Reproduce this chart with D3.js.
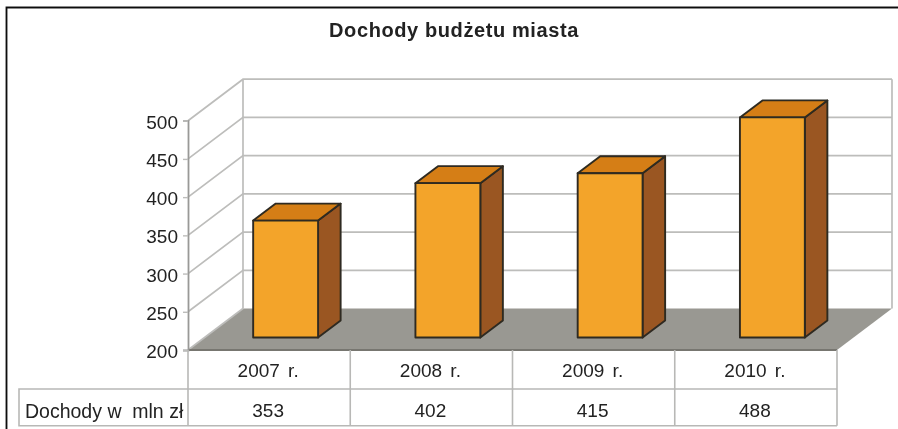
<!DOCTYPE html>
<html>
<head>
<meta charset="utf-8">
<script src="https://cdn.jsdelivr.net/npm/d3@7"></script>
<style>
  html, body { margin: 0; padding: 0; background: #fff; }
  svg { display: block; }
  text { font-family: "Liberation Sans", Arial, sans-serif; fill: #222; }
</style>
</head>
<body>
<div id="chart"></div>
<script>
const title = "Dochody budżetu miasta";
const categories = ["2007 r.", "2008 r.", "2009 r.", "2010 r."];
const incomes = [353, 402, 415, 488];
const yTicks = [200, 250, 300, 350, 400, 450, 500];
const rowLabel = "Dochody w  mln zł";

const width = 898, height = 429;

const svg = d3.select("#chart").append("svg")
  .attr("width", width)
  .attr("height", height);

// the scan is soft, so everything goes through a slight blur
svg.append("filter").attr("id", "soft")
  .append("feGaussianBlur").attr("stdDeviation", 0.6);

const root = svg.append("g").attr("filter", "url(#soft)");

const x = d3.scaleBand()
  .domain(categories)
  .range([188, 837])
  .paddingInner(0.6)
  .paddingOuter(0.3);

const y = d3.scaleLinear()
  .domain([200, 500])
  .range([350, 120.7]);

// depth 0 = front of the floor, 1 = back wall
const depthX = d3.scaleLinear().domain([0, 1]).range([0, 55]);
const depthY = d3.scaleLinear().domain([0, 1]).range([0, -41.5]);
const barFront = 0.3, barBack = 0.71;

const px = (xv, d) => xv + depthX(d);
const py = (v, d) => y(v) + depthY(d);
const toPath = pts => "M" + pts.map(p => p.join(",")).join("L") + "Z";

const left = x.range()[0], right = x.range()[1];

// outer frame, only top and left are visible
root.append("path")
  .attr("d", `M6.5,${height}V7.5H${width + 2}`)
  .attr("fill", "none")
  .attr("stroke", "#111")
  .attr("stroke-width", 1.8);

// Title
root.append("text")
  .attr("x", 454)
  .attr("y", 36.5)
  .attr("text-anchor", "middle")
  .attr("font-size", 20)
  .attr("font-weight", "bold")
  .attr("letter-spacing", 0.6)
  .text(title);

// Floor
root.append("path")
  .attr("d", toPath([
    [px(left, 0), py(200, 0)],
    [px(left, 1), py(200, 1)],
    [px(right, 1), py(200, 1)],
    [px(right, 0), py(200, 0)]
  ]))
  .attr("fill", "#999892");

// Grid lines on side wall and back wall
const grid = root.append("g")
  .attr("fill", "none")
  .attr("stroke", "#bdbdbb")
  .attr("stroke-width", 1.7);

grid.selectAll("path.wall")
  .data(yTicks)
  .enter()
  .append("path")
  .attr("class", "wall")
  .attr("d", d => `M${px(left, 0)},${py(d, 0)}L${px(left, 1)},${py(d, 1)}` +
    (d > 200 ? `L${px(right, 1)},${py(d, 1)}` : ""));

grid.append("line")
  .attr("x1", px(left, 1)).attr("x2", px(left, 1))
  .attr("y1", py(200, 1)).attr("y2", py(500, 1));

grid.append("line")
  .attr("x1", px(right, 1)).attr("x2", px(right, 1))
  .attr("y1", py(200, 1)).attr("y2", py(500, 1));

// dark front edge of the floor
root.append("line")
  .attr("x1", left).attr("x2", right)
  .attr("y1", y(200)).attr("y2", y(200))
  .attr("stroke", "#77766f")
  .attr("stroke-width", 2);

// Y axis
const yAxis = root.append("g")
  .attr("transform", `translate(${left},0)`)
  .call(d3.axisLeft(y).tickValues(yTicks).tickSize(5).tickPadding(5));
yAxis.select(".domain").attr("stroke", "#999997").attr("stroke-width", 1.8);
yAxis.selectAll(".tick line").attr("stroke", "#bdbdbb").attr("stroke-width", 1.4);
yAxis.selectAll("text")
  .attr("font-size", 19)
  .attr("dy", "0.4em")
  .attr("font-family", '"Liberation Sans", Arial, sans-serif')
  .attr("fill", "#222");

// Bars
const bars = root.selectAll("g.bar")
  .data(categories.map((c, i) => ({ category: c, value: incomes[i] })))
  .enter()
  .append("g")
  .attr("class", "bar")
  .attr("stroke", "#2e2a20")
  .attr("stroke-width", 1.9)
  .attr("stroke-linejoin", "round");

bars.append("path")
  .attr("fill", "#9a5620")
  .attr("d", d => {
    const r = x(d.category) + x.bandwidth();
    return toPath([
      [px(r, barFront), py(200, barFront)],
      [px(r, barBack), py(200, barBack)],
      [px(r, barBack), py(d.value, barBack)],
      [px(r, barFront), py(d.value, barFront)]
    ]);
  });

bars.append("path")
  .attr("fill", "#d57e13")
  .attr("d", d => {
    const l = x(d.category), r = l + x.bandwidth();
    return toPath([
      [px(l, barFront), py(d.value, barFront)],
      [px(l, barBack), py(d.value, barBack)],
      [px(r, barBack), py(d.value, barBack)],
      [px(r, barFront), py(d.value, barFront)]
    ]);
  });

bars.append("rect")
  .attr("fill", "#f3a429")
  .attr("x", d => px(x(d.category), barFront))
  .attr("y", d => py(d.value, barFront))
  .attr("width", x.bandwidth())
  .attr("height", d => y(200) - y(d.value));

// Data table under the chart
const rowTop = 350, rowMid = 389, rowBottom = 425.7, tableLeft = 19;
const edges = categories.map((c, i) => left + x.step() * i).concat(right);

const table = root.append("g")
  .attr("stroke", "#b8b8b6")
  .attr("stroke-width", 1.6);

table.selectAll("line.col")
  .data(edges)
  .enter()
  .append("line")
  .attr("class", "col")
  .attr("x1", d => d).attr("x2", d => d)
  .attr("y1", rowTop).attr("y2", rowBottom);

table.append("path")
  .attr("fill", "none")
  .attr("d", `M${left},${rowMid}H${tableLeft}V${rowBottom}H${right}M${left},${rowMid}H${right}`);

root.selectAll("text.cat")
  .data(categories)
  .enter()
  .append("text")
  .attr("class", "cat")
  .attr("x", (d, i) => edges[i] + x.step() / 2 - 1)
  .attr("y", 376.5)
  .attr("text-anchor", "middle")
  .attr("font-size", 19)
  .attr("word-spacing", 3)
  .text(d => d);

root.selectAll("text.val")
  .data(incomes)
  .enter()
  .append("text")
  .attr("class", "val")
  .attr("x", (d, i) => edges[i] + x.step() / 2 - 1)
  .attr("y", 416.5)
  .attr("text-anchor", "middle")
  .attr("font-size", 19)
  .text(d => d);

root.append("text")
  .attr("x", 25)
  .attr("y", 418)
  .attr("font-size", 19.5)
  .style("white-space", "pre")
  .text(rowLabel);
</script>
</body>
</html>
